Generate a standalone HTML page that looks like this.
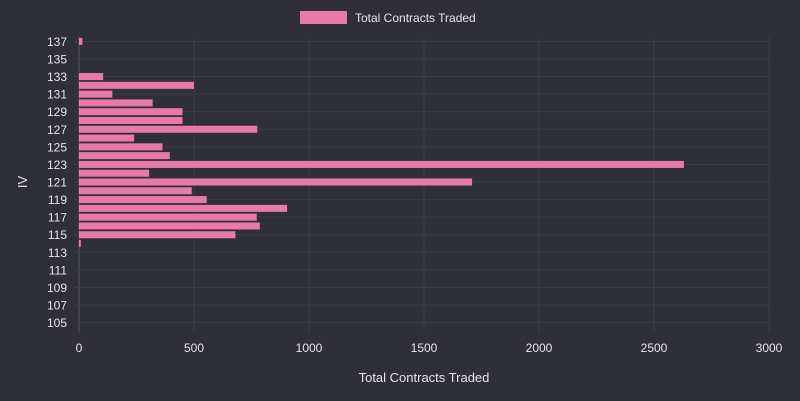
<!DOCTYPE html>
<html><head><meta charset="utf-8"><style>
html,body{margin:0;padding:0;background:#2f2f38;}
svg{display:block;font-family:"Liberation Sans",sans-serif;}
</style></head><body>
<svg id="chart" width="800" height="401" viewBox="0 0 800 401">
<rect x="0" y="0" width="800" height="401" fill="#2f2f38"/>
<g>
<rect x="300" y="11" width="47" height="13" fill="#e77aa9"/>
<text x="355" y="22" fill="#e6e6e6" font-size="12">Total Contracts Traded</text>
</g>
<g id="grid"></g>
<g id="bars"></g>
<g id="xticks"></g>
<g id="yticks"></g>
<text x="424" y="382" text-anchor="middle" fill="#e6e6e6" font-size="13">Total Contracts Traded</text>
<text transform="translate(27,182) rotate(-90)" text-anchor="middle" fill="#e6e6e6" font-size="13">IV</text>
</svg>
<script>
const categories = [105,106,107,108,109,110,111,112,113,114,115,116,117,118,119,120,121,122,123,124,125,126,127,128,129,130,131,132,133,134,135,136,137];
const values = [0,0,0,0,0,0,0,0,0,8,680,786,773,905,555,490,1709,305,2630,395,363,240,775,450,450,320,145,500,105,0,0,0,15];
const xTicks = [0,500,1000,1500,2000,2500,3000];
const yTickLabels = [105,107,109,111,113,115,117,119,121,123,125,127,129,131,133,135,137];

const L=79,R=769,T=37,B=327,xMax=3000;
const minC=105,maxC=137;
const step=(B-T)/(maxC-minC+1);
function xs(v){return L+(v/xMax)*(R-L);}
function ys(c){return T+(maxC-c+0.5)*step;}
const NS="http://www.w3.org/2000/svg";
function mk(tag,attrs,parent){const e=document.createElementNS(NS,tag);for(const k in attrs)e.setAttribute(k,attrs[k]);parent.appendChild(e);return e;}
const grid=document.getElementById('grid'),bars=document.getElementById('bars'),xt=document.getElementById('xticks'),yt=document.getElementById('yticks');
xTicks.forEach(v=>{
 const l=mk('line',{x1:xs(v),x2:xs(v),y1:T,y2:B+5,stroke:v===0?'#55555f':'#3d3d47','stroke-width':1},grid);
 
 
 const t=mk('text',{x:xs(v),y:B+25,'text-anchor':'middle',fill:'#e6e6e6','font-size':12},xt);
 t.textContent=v;
 
 
});
yTickLabels.forEach(c=>{
 const l=mk('line',{x1:L-5,x2:R,y1:ys(c),y2:ys(c),stroke:'#3d3d47','stroke-width':1},grid);
 
 
 const t=mk('text',{x:L-12,y:ys(c)+4.5,'text-anchor':'end',fill:'#e6e6e6','font-size':12},yt);
 t.textContent=c;
 
 
});
categories.forEach((c,i)=>{
 const v=values[i]; if(v<=0) return;
 const h=step*0.8;
 const r=mk('rect',{x:L,y:ys(c)-h/2,width:Math.max(xs(v)-L,1.5),height:h,fill:'#e77aa9'},bars);
 
 
});
</script>
</body></html>
